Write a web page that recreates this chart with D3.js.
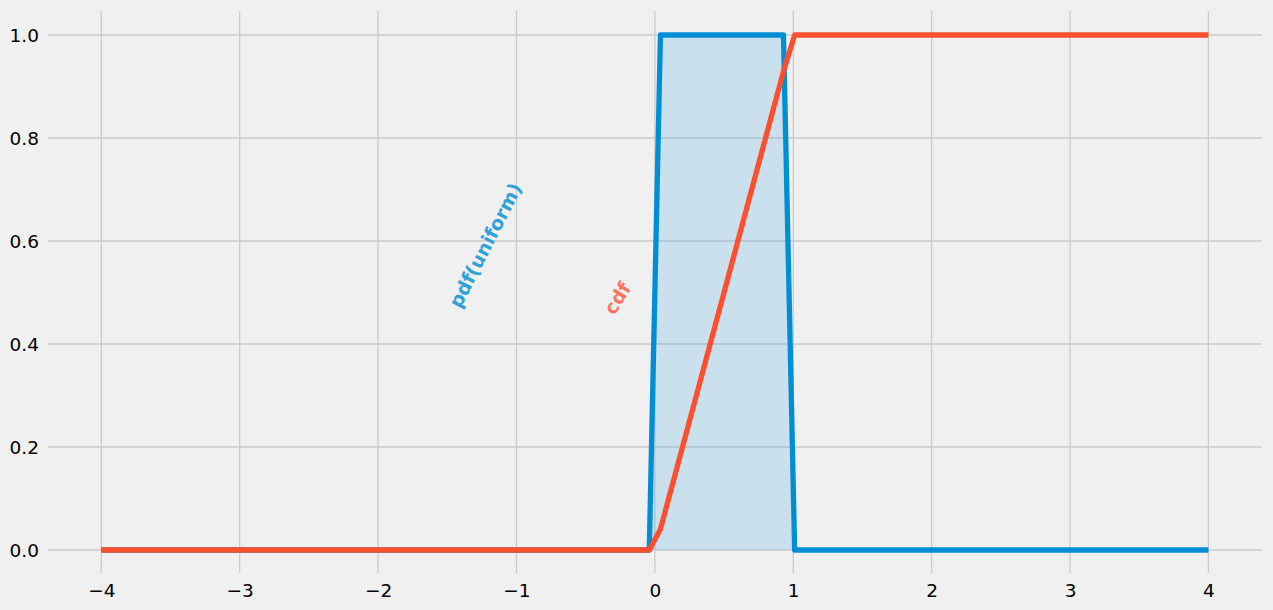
<!DOCTYPE html>
<html><head><meta charset="utf-8">
<script src="https://cdn.jsdelivr.net/npm/d3@7"></script>
<style>body{margin:0;background:#f0f0f0;}svg{display:block;}</style>
</head><body>
<svg id="c" width="1273" height="610"></svg>
<script>
// breakpoints of the sampled curves (linspace(-4,4,100) collapses to these)
const xs  = [-4, -0.0404, 0.0404, 0.9293, 1.0101, 4];
const pdf = [0, 0, 1, 1, 0, 0];
const cdf = [0, 0, 0.0404, 0.9293, 1, 1];
const xTicks = [-4, -3, -2, -1, 0, 1, 2, 3, 4];
const yTicks = [0.0, 0.2, 0.4, 0.6, 0.8, 1.0];

const svg = d3.select("#c");
const x = d3.scaleLinear().domain([-4.385, 4.385]).range([48, 1261.7]);
const y = d3.scaleLinear().domain([-0.0447, 1.0466]).range([573, 11]);

// grid
const g = svg.append("g");
g.selectAll(".vg").data(xTicks).enter().append("line")
  .attr("x1", d => x(d)).attr("x2", d => x(d)).attr("y1", y.range()[0]).attr("y2", y.range()[1])
  .attr("stroke", "#cbcbcb").attr("stroke-width", 1.3);
g.selectAll(".hg").data(yTicks).enter().append("line")
  .attr("y1", d => y(d)).attr("y2", d => y(d)).attr("x1", x.range()[0]).attr("x2", x.range()[1])
  .attr("stroke", "#cbcbcb").attr("stroke-width", 1.3);

// axes (labels only)
const xAxis = svg.append("g").attr("transform", `translate(0,${y.range()[0]})`)
  .call(d3.axisBottom(x).tickValues(xTicks).tickSize(0).tickPadding(8).tickFormat(d => d < 0 ? "\u2212" + Math.abs(d) : String(d)));
const yAxis = svg.append("g").attr("transform", `translate(${x.range()[0]},0)`)
  .call(d3.axisLeft(y).tickValues(yTicks).tickSize(0).tickPadding(9).tickFormat(d3.format(".1f")));
[xAxis, yAxis].forEach(a => {
  a.select(".domain").remove();
  a.selectAll("text").attr("font-family", "DejaVu Sans").attr("font-size", 18.5).attr("fill", "#000");
});
xAxis.selectAll("text").attr("y", 24).attr("dy", 0);
yAxis.selectAll("text").attr("dy", "0.36em");

const pts = xs.map((v, i) => ({x: v, p: pdf[i], c: cdf[i]}));

// fill under pdf
svg.append("path").datum(pts)
  .attr("d", d3.area().x(d => x(d.x)).y0(y(0)).y1(d => y(d.p)))
  .attr("fill", "#30a2da").attr("fill-opacity", 0.2);

// lines
svg.append("path").datum(pts)
  .attr("d", d3.line().x(d => x(d.x)).y(d => y(d.p)))
  .attr("fill", "none").attr("stroke", "#008fd5").attr("stroke-width", 5.3).attr("stroke-linejoin", "round");
svg.append("path").datum(pts)
  .attr("d", d3.line().x(d => x(d.x)).y(d => y(d.c)))
  .attr("fill", "none").attr("stroke", "#fc4f30").attr("stroke-width", 5.3).attr("stroke-linejoin", "round");

// annotations
svg.append("text").attr("transform", `translate(${x(-1.227)},${y(0.592)}) rotate(-63)`)
  .attr("text-anchor", "middle").attr("dominant-baseline", "central")
  .attr("font-family", "DejaVu Sans").attr("font-weight", "bold").attr("font-size", 19)
  .attr("fill", "#30a2da").text("pdf(uniform)");
svg.append("text").attr("transform", `translate(${x(-0.273)},${y(0.489)}) rotate(-58)`)
  .attr("text-anchor", "middle").attr("dominant-baseline", "central")
  .attr("font-family", "DejaVu Sans").attr("font-weight", "bold").attr("font-size", 19)
  .attr("fill", "#fc4f30").attr("fill-opacity", 0.75).text("cdf");
</script>
</body></html>
